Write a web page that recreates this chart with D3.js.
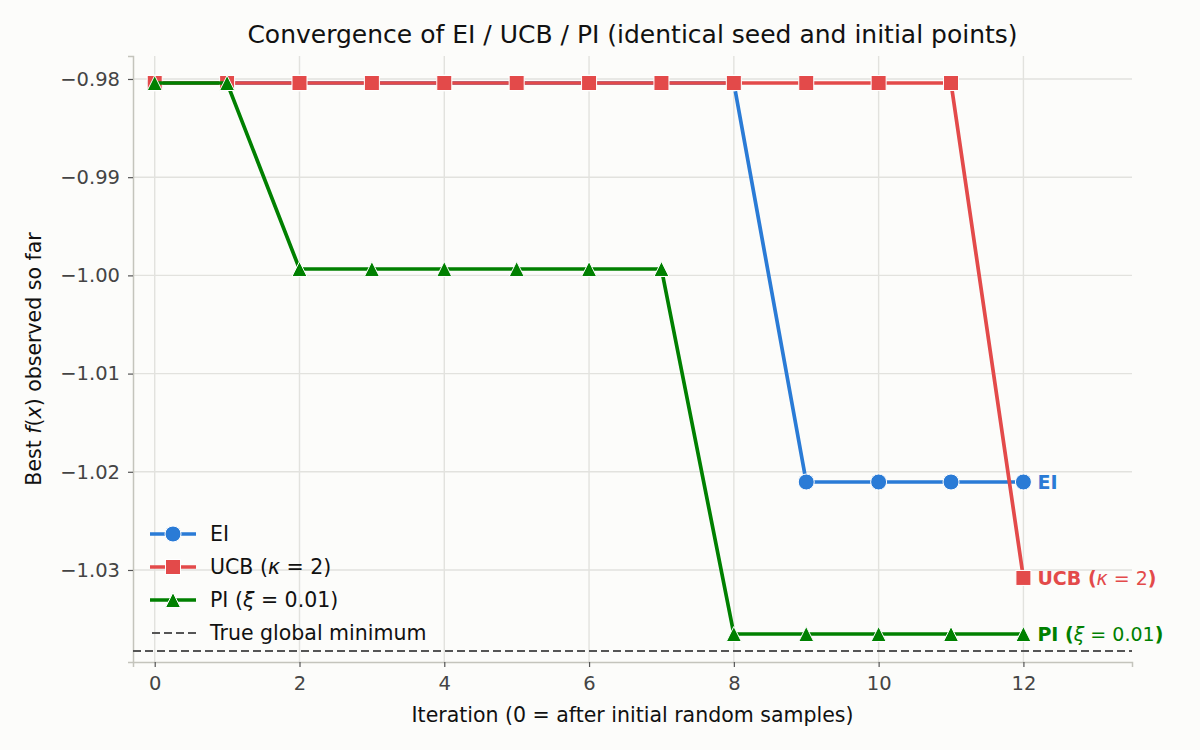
<!DOCTYPE html>
<html>
<head>
<meta charset="utf-8">
<script src="https://cdn.jsdelivr.net/npm/d3@7"></script>
<style>
 body { margin: 0; background: #fcfcfa; }
 text { font-family: "DejaVu Sans", sans-serif; }
</style>
</head>
<body>
<svg id="chart" width="1200" height="750"></svg>
<script>
'use strict'
// data
const iterations = [0, 1, 2, 3, 4, 5, 6, 7, 8, 9, 10, 11, 12];
const eiBest  = [-0.98041, -0.98041, -0.98041, -0.98041, -0.98041, -0.98041, -0.98041, -0.98041, -0.98041, -1.02104, -1.02104, -1.02104, -1.02104];
const ucbBest = [-0.98041, -0.98041, -0.98041, -0.98041, -0.98041, -0.98041, -0.98041, -0.98041, -0.98041, -0.98041, -0.98041, -0.98041, -1.03081];
const piBest  = [-0.98041, -0.98041, -0.99935, -0.99935, -0.99935, -0.99935, -0.99935, -0.99935, -1.03652, -1.03652, -1.03652, -1.03652, -1.03652];
const trueMin = -1.03825;
const xTicks = [0, 2, 4, 6, 8, 10, 12];
const yTicks = [-0.98, -0.99, -1.00, -1.01, -1.02, -1.03];

const series = [
 { name: "EI", values: eiBest, color: "#2a7bd6", marker: "circle", label: [["EI", false]] },
 { name: "UCB", values: ucbBest, color: "#e34a4a", marker: "square", label: [["UCB (", false], ["κ", true], [" = 2", false, true], [")", false]] },
 { name: "PI", values: piBest, color: "#008000", marker: "triangle", label: [["PI (", false], ["ξ", true], [" = 0.01", false, true], [")", false]] }
];

const margin = { left: 133, right: 68, top: 56, bottom: 88 };
const W = 1200, H = 750;
const svg = d3.select("#chart");

const x = d3.scaleLinear().domain([-0.3, 13.5]).range([margin.left, W - margin.right]);
const y = d3.scaleLinear().domain([-1.03937, -0.97766]).range([H - margin.bottom, margin.top]);

// grid
svg.append("g").selectAll("line").data(xTicks).join("line")
 .attr("x1", d => x(d)).attr("x2", d => x(d))
 .attr("y1", margin.top).attr("y2", H - margin.bottom)
 .attr("stroke", "#e2e2de").attr("stroke-width", 1.4);
svg.append("g").selectAll("line").data(yTicks).join("line")
 .attr("x1", margin.left).attr("x2", W - margin.right)
 .attr("y1", d => y(d)).attr("y2", d => y(d))
 .attr("stroke", "#e2e2de").attr("stroke-width", 1.4);

// axes
const xAxis = svg.append("g").attr("transform", `translate(0,${H - margin.bottom})`)
 .call(d3.axisBottom(x).tickValues(xTicks).tickSize(5).tickPadding(9).tickFormat(d3.format("d")));
const yAxis = svg.append("g").attr("transform", `translate(${margin.left},0)`)
 .call(d3.axisLeft(y).tickValues(yTicks).tickSize(5).tickPadding(8).tickFormat(d => d3.format(".2f")(d).replace("-", "−")));
[xAxis, yAxis].forEach(a => {
 a.select(".domain").attr("stroke", "#c4c4bc").attr("stroke-width", 1.5);
 a.selectAll(".tick line").attr("stroke", "#555").attr("stroke-width", 1.2);
 a.selectAll(".tick text").attr("fill", "#444").attr("font-size", 19.5).attr("font-family", "DejaVu Sans");
});

// true global minimum
svg.append("line")
 .attr("x1", margin.left).attr("x2", W - margin.right)
 .attr("y1", y(trueMin)).attr("y2", y(trueMin))
 .attr("stroke", "#555").attr("stroke-width", 2).attr("stroke-dasharray", "8,4");

const line = d3.line().x((d, i) => x(iterations[i])).y(d => y(d));

function drawMarker(g, type, cx, cy, color) {
 if (type === "circle") {
  g.append("circle").attr("cx", cx).attr("cy", cy).attr("r", 8)
   .attr("fill", color).attr("stroke", "#fff").attr("stroke-width", 1);
 } else if (type === "square") {
  g.append("rect").attr("x", cx - 7.5).attr("y", cy - 7.5).attr("width", 15).attr("height", 15)
   .attr("fill", color).attr("stroke", "#fff").attr("stroke-width", 1);
 } else {
  const s = 7.5;
  g.append("path").attr("d", `M${cx},${cy - s}L${cx + s},${cy + s}L${cx - s},${cy + s}Z`)
   .attr("fill", color).attr("stroke", "#fff").attr("stroke-width", 1);
 }
}

// p = [text, italic, plainWeight]
function addRichText(t, parts) {
 parts.forEach(p => {
  const ts = t.append("tspan").text(p[0]);
  if (p[1]) ts.attr("font-style", "italic").attr("font-weight", "normal");
  if (p[2]) ts.attr("font-weight", "normal");
 });
}

series.forEach(s => {
 const g = svg.append("g");
 g.append("path").datum(s.values).attr("d", line)
  .attr("fill", "none").attr("stroke", s.color).attr("stroke-width", 3.7);
 s.values.forEach((v, i) => drawMarker(g, s.marker, x(iterations[i]), y(v), s.color));
 const last = s.values.length - 1;
 const t = svg.append("text")
  .attr("x", x(iterations[last]) + 14).attr("y", y(s.values[last]) + 7)
  .attr("fill", s.color).attr("font-size", 19).attr("font-weight", "bold");
 addRichText(t, s.label);
});

// legend
const legend = svg.append("g").attr("transform", "translate(150,534)");
series.forEach((s, i) => {
 const row = legend.append("g").attr("transform", `translate(0,${i * 33})`);
 row.append("line").attr("x1", 0).attr("x2", 46).attr("stroke", s.color).attr("stroke-width", 3.7);
 drawMarker(row, s.marker, 23, 0, s.color);
 const t = row.append("text").attr("x", 60).attr("y", 7).attr("font-size", 20.5).attr("fill", "#111");
 addRichText(t, s.label);
});
const dashRow = legend.append("g").attr("transform", "translate(0,99)");
dashRow.append("line").attr("x1", 2).attr("x2", 46)
 .attr("stroke", "#555").attr("stroke-width", 2).attr("stroke-dasharray", "8,4");
dashRow.append("text").attr("x", 60).attr("y", 7).attr("font-size", 20.5).attr("fill", "#111").text("True global minimum");

// titles
svg.append("text").attr("x", (margin.left + W - margin.right) / 2).attr("y", 43)
 .attr("text-anchor", "middle").attr("font-size", 25).attr("fill", "#111")
 .text("Convergence of EI / UCB / PI (identical seed and initial points)");
svg.append("text").attr("x", (margin.left + W - margin.right) / 2).attr("y", 722)
 .attr("text-anchor", "middle").attr("font-size", 20.5).attr("fill", "#111")
 .text("Iteration (0 = after initial random samples)");
const yl = svg.append("text").attr("transform", `translate(41,${(margin.top + H - margin.bottom) / 2}) rotate(-90)`)
 .attr("text-anchor", "middle").attr("font-size", 20.5).attr("fill", "#111");
addRichText(yl, [["Best ", false], ["f", true], ["(", false], ["x", true], [") observed so far", false]]);
</script>
</body>
</html>
